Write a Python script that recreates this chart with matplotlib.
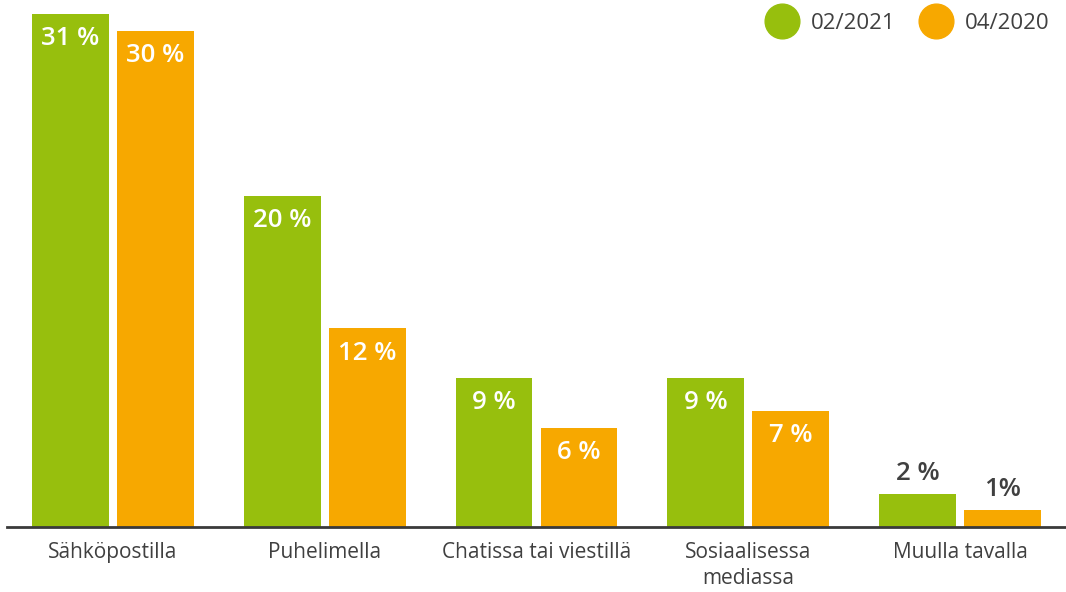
import matplotlib
matplotlib.use("Agg")
import matplotlib.pyplot as plt
from matplotlib.lines import Line2D
import numpy as np

plt.rcParams['font.family'] = ['Open Sans', 'DejaVu Sans']

categories = ["Sähköpostilla", "Puhelimella", "Chatissa tai viestillä",
              "Sosiaalisessa\nmediassa", "Muulla tavalla"]
series_names = ["02/2021", "04/2020"]
values_2021 = [31, 20, 9, 9, 2]
values_2020 = [30, 12, 6, 7, 1]
labels_2021 = ["31 %", "20 %", "9 %", "9 %", "2 %"]
labels_2020 = ["30 %", "12 %", "6 %", "7 %", "1%"]

GREEN = "#97BF0D"
ORANGE = "#F7A800"
TEXT = "#404040"

fig = plt.figure(figsize=(10.66, 5.92), dpi=100)
ax = fig.add_axes([7 / 1066, 65 / 592, 1059 / 1066, 527 / 592])

x = np.arange(len(categories))
w = 0.363
off = 0.2005
bars_a = ax.bar(x - off, values_2021, w, color=GREEN, zorder=2)
bars_b = ax.bar(x + off, values_2020, w, color=ORANGE, zorder=2)

ax.set_xlim(-0.5, 4.5)
ax.set_ylim(0, 31.85)

# value labels: inside near the top for tall bars, above for short ones
for bars, labels in ((bars_a, labels_2021), (bars_b, labels_2020)):
    for b, lab in zip(bars, labels):
        h = b.get_height()
        cx = b.get_x() + b.get_width() / 2
        if h >= 5:
            ax.text(cx, h - 1.5, lab, ha='center', va='center', color='white',
                    fontsize=18.5, fontweight='semibold')
        else:
            ax.text(cx, h + 1.25, lab, ha='center', va='center', color=TEXT,
                    fontsize=18.5, fontweight='semibold')

for s in ['top', 'right', 'left']:
    ax.spines[s].set_visible(False)
ax.spines['bottom'].set_color('#3a3a3a')
ax.spines['bottom'].set_linewidth(2)
ax.spines['bottom'].set_zorder(3)
ax.set_yticks([])
ax.set_xticks(x)
ax.set_xticklabels(categories, fontsize=15, color=TEXT, linespacing=1.3, va='top')
ax.tick_params(axis='x', length=0, pad=11)

handles = [Line2D([], [], marker='o', linestyle='none', markersize=25,
                  markerfacecolor=c, markeredgecolor=c) for c in (GREEN, ORANGE)]
leg = ax.legend(handles, series_names, loc='upper right', ncol=2, frameon=False,
                bbox_to_anchor=(1.003, 1.014), fontsize=16, handletextpad=0.6,
                columnspacing=1.1, handlelength=1.4)
for t in leg.get_texts():
    t.set_color(TEXT)

fig.savefig("out.png", dpi=100)
